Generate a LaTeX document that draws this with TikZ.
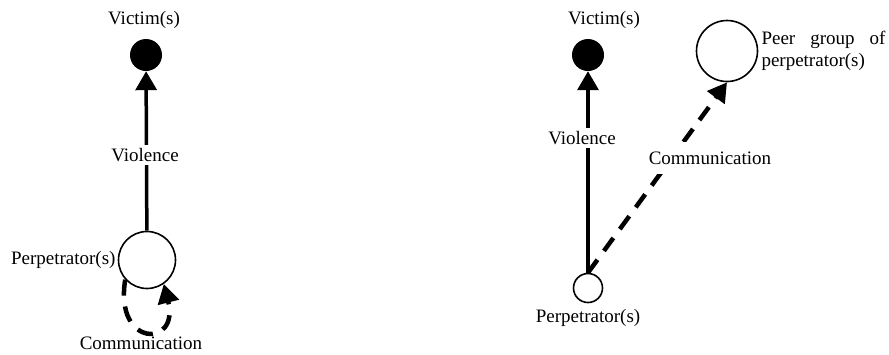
\documentclass[tikz,border=0pt]{standalone}
\usepackage{fontspec}
\setmainfont{Liberation Serif}
\usepackage{tikz}
\usetikzlibrary{arrows.meta,positioning}

\begin{document}
\begin{tikzpicture}[x=1pt,y=-1pt,font=\fontsize{19}{21.5}\selectfont]
    % Define styles for all nodes and edges
    \tikzstyle{person} = [draw, circle, line width=1.6pt, fill=white, inner sep=0pt]
    \tikzstyle{victim} = [circle, fill=black, minimum size=32pt, inner sep=0pt]
    \tikzstyle{lbl} = [inner sep=2pt]
    \tikzstyle{gap} = [fill=white, inner sep=3pt]
    \tikzstyle{violence} = [-{Triangle[width=21pt,length=19pt]}, line width=3.5pt]
    \tikzstyle{comm} = [-{Triangle[width=21pt,length=19pt]}, line width=4.5pt, dash pattern=on 16pt off 11pt]

    \useasboundingbox (0,0) rectangle (889,354);

    % Left: nodes
    \node[victim] (lvic) at (146,55) {};
    \node[lbl] (lvictxt) at (144,20) {Victim(s)};
    \node[person, minimum size=57pt] (lper) at (147,260) {};
    \node[lbl, left=0pt of lper] (lpertxt) {Perpetrator(s)};
    \node[lbl] (lcomtxt) at (141,343) {Communication};

    % Left: edges
    \draw[violence] (lper) -- (lvic);
    \node[gap] (lviol) at (145,155) {Violence};
    \draw[comm] (lper.222) .. controls (114,348) and (180,348) .. (lper.305);

    % Right: nodes
    \node[victim] (rvic) at (588,55) {};
    \node[lbl] (rvictxt) at (604,20) {Victim(s)};
    \node[person, minimum size=29pt] (rper) at (588,288) {};
    \node[lbl, below=4pt of rper] (rpertxt) {Perpetrator(s)};
    \node[person, minimum size=61pt] (peer) at (727,51) {};
    \node[lbl, right=1pt of peer, text width=124pt, align=justify] (peertxt) {Peer group of perpetrator(s)};

    % Right: edges
    \draw[violence] (rper.north) -- (rvic);
    \node[gap] (rviol) at (582,138) {Violence};
    \draw[comm] (rper.north) -- (peer.south);
    \node[gap, inner ysep=10pt] (rcomm) at (710,158) {Communication};
\end{tikzpicture}
\end{document}
